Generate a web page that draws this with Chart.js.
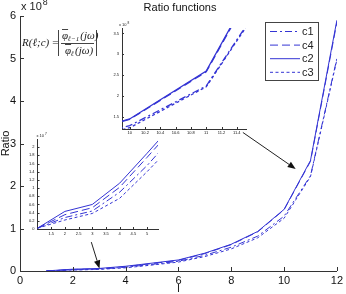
<!DOCTYPE html>
<html>
<head>
<meta charset="utf-8">
<script src="https://cdn.jsdelivr.net/npm/chart.js@4.4.0/dist/chart.umd.min.js"></script>
<style>
  body { margin: 0; background: #fff; }
  #wrap { position: relative; width: 346px; height: 294px; }
  canvas { position: absolute; }
</style>
</head>
<body>
<div id="wrap">
  <canvas id="main" width="346" height="294" style="left:0;top:0"></canvas>
  <canvas id="zoomHi" width="150" height="118" style="left:100px;top:18px"></canvas>
  <canvas id="zoomLo" width="145" height="110" style="left:20px;top:130px"></canvas>
</div>
<script>
// level l
const levels = [1, 2, 3, 4, 5, 6, 7, 8, 9, 10, 11, 12];
// ratio values, in units of 10^8
const c1 = [0.002, 0.028, 0.044, 0.090, 0.155, 0.23, 0.37, 0.56, 0.82, 1.29, 2.24, 5.00];
const c4 = [0.002, 0.035, 0.052, 0.102, 0.175, 0.25, 0.41, 0.62, 0.92, 1.44, 2.58, 5.85];
const c2 = [0.002, 0.043, 0.060, 0.112, 0.185, 0.26, 0.42, 0.63, 0.93, 1.45, 2.60, 5.90];
const c3 = [0.002, 0.022, 0.038, 0.075, 0.140, 0.21, 0.34, 0.52, 0.78, 1.24, 2.22, 4.97];

const seriesNames = ['c1', 'c4', 'c2', 'c3'];
const seriesValues = [c1, c4, c2, c3];

// tick labels
const mainXTicks = [0, 2, 4, 6, 8, 10, 12];
const mainYTicks = [0, 1, 2, 3, 4, 5, 6];
const hiXTicks = [10, 10.2, 10.4, 10.6, 10.8, 11, 11.2, 11.4];
const hiYTicks = [1.5, 2, 2.5, 3, 3.5];
const loXTicks = [1.5, 2, 2.5, 3, 3.5, 4, 4.5, 5];
const loYTicks = [0, 0.2, 0.4, 0.6, 0.8, 1, 1.2, 1.4, 1.6, 1.8, 2];  // x 10^7

const blue = '#3434d4';
const dashes = [[7, 3, 2, 3], [8, 4], [], [3, 2.5]];
const sansFont = '"Liberation Sans", Arial, sans-serif';

function makeDatasets(width) {
  return seriesValues.map((vals, i) => ({
    label: seriesNames[i],
    data: levels.map((l, k) => ({ x: l, y: vals[k] })),
    borderColor: blue,
    borderWidth: width,
    borderDash: dashes[i],
    pointRadius: 0,
    tension: 0,
    fill: false
  }));
}

// MATLAB style inward tick marks
const tickMarks = {
  id: 'tickMarks',
  afterDraw(chart, args, opts) {
    const { ctx, chartArea: a, scales: { x, y } } = chart;
    ctx.save();
    ctx.strokeStyle = '#333';
    ctx.lineWidth = 1;
    ctx.beginPath();
    x.ticks.forEach(t => {
      const px = Math.round(x.getPixelForValue(t.value)) + 0.5;
      ctx.moveTo(px, a.bottom);
      ctx.lineTo(px, a.bottom - opts.len);
    });
    y.ticks.forEach(t => {
      const py = Math.round(y.getPixelForValue(t.value)) + 0.5;
      ctx.moveTo(a.left, py);
      ctx.lineTo(a.left + opts.len, py);
    });
    ctx.stroke();
    ctx.restore();
  }
};

// "x 10^n" label over the y axis
const exponentLabel = {
  id: 'exponentLabel',
  afterDraw(chart, args, opts) {
    const { ctx, chartArea: a } = chart;
    ctx.save();
    ctx.fillStyle = '#222';
    ctx.textBaseline = 'alphabetic';
    ctx.font = opts.size + 'px ' + sansFont;
    const base = 'x 10';
    const x0 = a.left + opts.dx, y0 = a.top - opts.dy;
    ctx.fillText(base, x0, y0);
    const w = ctx.measureText(base).width;
    ctx.font = (opts.size * 0.8) + 'px ' + sansFont;
    ctx.fillText(opts.exp, x0 + w + 1, y0 - opts.size * 0.5);
    ctx.restore();
  }
};

function arrow(ctx, x1, y1, x2, y2) {
  const ang = Math.atan2(y2 - y1, x2 - x1);
  const hl = 8, hw = 3.2;
  const bx = x2 - hl * Math.cos(ang), by = y2 - hl * Math.sin(ang);
  ctx.beginPath();
  ctx.moveTo(x1, y1);
  ctx.lineTo(bx, by);
  ctx.stroke();
  ctx.beginPath();
  ctx.moveTo(x2, y2);
  ctx.lineTo(bx + hw * Math.sin(ang), by - hw * Math.cos(ang));
  ctx.lineTo(bx - hw * Math.sin(ang), by + hw * Math.cos(ang));
  ctx.closePath();
  ctx.fill();
}

function drawFormula(ctx) {
  ctx.save();
  ctx.fillStyle = '#222';
  ctx.strokeStyle = '#444';
  ctx.lineWidth = 1;
  ctx.textBaseline = 'middle';
  const big = 'italic 11px "Liberation Serif", serif';
  const up = '11px "Liberation Serif", serif';
  const small = 'italic 7px "Liberation Serif", serif';
  ctx.font = big;
  ctx.fillText('R(ℓ;c)', 22, 43);
  const rw = ctx.measureText('R(ℓ;c)').width;
  ctx.font = up;
  ctx.fillText('=', 22 + rw + 3, 43);
  // absolute value bars and fraction line
  ctx.beginPath();
  ctx.moveTo(58.5, 30); ctx.lineTo(58.5, 56);
  ctx.moveTo(96.5, 30); ctx.lineTo(96.5, 56);
  ctx.moveTo(61, 43.5); ctx.lineTo(94, 43.5);
  ctx.stroke();
  function phiTerm(x, y, sub) {
    ctx.font = big;
    ctx.fillText('φ', x, y);
    const pw = ctx.measureText('φ').width;
    ctx.beginPath();
    ctx.moveTo(x, y - 6.5); ctx.lineTo(x + pw, y - 6.5);
    ctx.stroke();
    ctx.font = small;
    ctx.fillText(sub, x + pw, y + 3);
    const sw = ctx.measureText(sub).width;
    ctx.font = big;
    ctx.fillText('(jω)', x + pw + sw + 1, y);
  }
  phiTerm(62, 36, 'ℓ−1');
  phiTerm(65, 51, 'ℓ');
  ctx.restore();
}

// title, formula, legend and arrows on the main axes
const mainDecor = {
  id: 'mainDecor',
  afterDraw(chart) {
    const { ctx, scales: { x, y } } = chart;
    ctx.save();
    ctx.fillStyle = '#111';
    ctx.font = '11px ' + sansFont;
    ctx.textAlign = 'center';
    ctx.textBaseline = 'middle';
    ctx.fillText('Ratio functions', 180, 8);
    ctx.textAlign = 'left';

    drawFormula(ctx);

    // arrows from the zoom boxes to the zoomed spots
    ctx.strokeStyle = '#222';
    ctx.fillStyle = '#111';
    ctx.lineWidth = 1;
    arrow(ctx, x.getPixelForValue(8.44), y.getPixelForValue(3.26),
               x.getPixelForValue(10.44), y.getPixelForValue(2.40));
    arrow(ctx, x.getPixelForValue(2.70), y.getPixelForValue(0.68),
               x.getPixelForValue(3.01), y.getPixelForValue(0.06));

    // legend box
    ctx.fillStyle = '#fff';
    ctx.strokeStyle = '#444';
    ctx.fillRect(265.5, 22.5, 53, 58);
    ctx.strokeRect(265.5, 22.5, 53, 58);
    chart.data.datasets.forEach((ds, i) => {
      const ly = 31 + i * 13.6;
      ctx.strokeStyle = ds.borderColor;
      ctx.lineWidth = 1;
      ctx.setLineDash(ds.borderDash);
      ctx.beginPath();
      ctx.moveTo(270, ly + 0.5);
      ctx.lineTo(300, ly + 0.5);
      ctx.stroke();
      ctx.setLineDash([]);
      ctx.fillStyle = '#222';
      ctx.font = '11px ' + sansFont;
      ctx.fillText(ds.label, 302, ly + 1);
    });
    ctx.restore();
  }
};

const plainNum = v => String(+v.toFixed(2));

function axisScale(min, max, tickList, fit, fontSize, pad, extra, fmt) {
  return Object.assign({
    type: 'linear',
    min: min,
    max: max,
    afterBuildTicks: s => { s.ticks = tickList.map(v => ({ value: v })); },
    afterFit: fit,
    grid: { drawOnChartArea: false, drawTicks: false },
    border: { color: '#333', width: 1 },
    ticks: { color: '#111', padding: pad, callback: fmt || plainNum,
             font: { family: sansFont, size: fontSize } }
  }, extra);
}

new Chart(document.getElementById('main'), {
  type: 'line',
  data: { datasets: makeDatasets(1) },
  options: {
    responsive: false,
    animation: false,
    layout: { padding: { top: 16, right: 6, left: 0, bottom: 0 } },
    scales: {
      x: axisScale(0, 12, mainXTicks, s => { s.height = 23; }, 11, 3, {
        title: { display: true, text: 'l', color: '#111', padding: 0,
                 font: { family: sansFont, size: 11, lineHeight: 1 } }
      }),
      y: axisScale(0, 6, mainYTicks, s => { s.width = 20; }, 11, 4, {
        title: { display: true, text: 'Ratio', color: '#111', padding: 0,
                 font: { family: sansFont, size: 11, lineHeight: 1 } }
      })
    },
    plugins: {
      legend: { display: false },
      tooltip: { enabled: false },
      tickMarks: { len: 4 },
      exponentLabel: { size: 11, exp: '8', dx: 1, dy: 6 }
    }
  },
  plugins: [tickMarks, exponentLabel, mainDecor]
});

// zoom on l = 10 .. 11.5
new Chart(document.getElementById('zoomHi'), {
  type: 'line',
  data: { datasets: makeDatasets(1.3) },
  options: {
    responsive: false,
    animation: false,
    layout: { padding: { top: 10, right: 4, left: 0, bottom: 0 } },
    scales: {
      x: axisScale(9.9, 11.52, hiXTicks, s => { s.height = 7; }, 4, 1),
      y: axisScale(1.21, 3.63, hiYTicks, s => { s.width = 22; }, 4, 3)
    },
    plugins: {
      legend: { display: false },
      tooltip: { enabled: false },
      tickMarks: { len: 2 },
      exponentLabel: { size: 4, exp: '8', dx: -3, dy: 2 }
    }
  },
  plugins: [tickMarks, exponentLabel]
});

// zoom on l = 1 .. 5.4, tick labels in units of 10^7
new Chart(document.getElementById('zoomLo'), {
  type: 'line',
  data: { datasets: makeDatasets(1) },
  options: {
    responsive: false,
    animation: false,
    layout: { padding: { top: 9, right: 7, left: 0, bottom: 0 } },
    scales: {
      x: axisScale(1, 5.4, loXTicks, s => { s.height = 11; }, 4, 2),
      y: axisScale(0, 0.22, loYTicks.map(v => v / 10), s => { s.width = 17.5; }, 4, 3, {},
                   v => String(+(v * 10).toFixed(1)))
    },
    plugins: {
      legend: { display: false },
      tooltip: { enabled: false },
      tickMarks: { len: 2 },
      exponentLabel: { size: 4, exp: '7', dx: -1, dy: 2 }
    }
  },
  plugins: [tickMarks, exponentLabel]
});
</script>
</body>
</html>
